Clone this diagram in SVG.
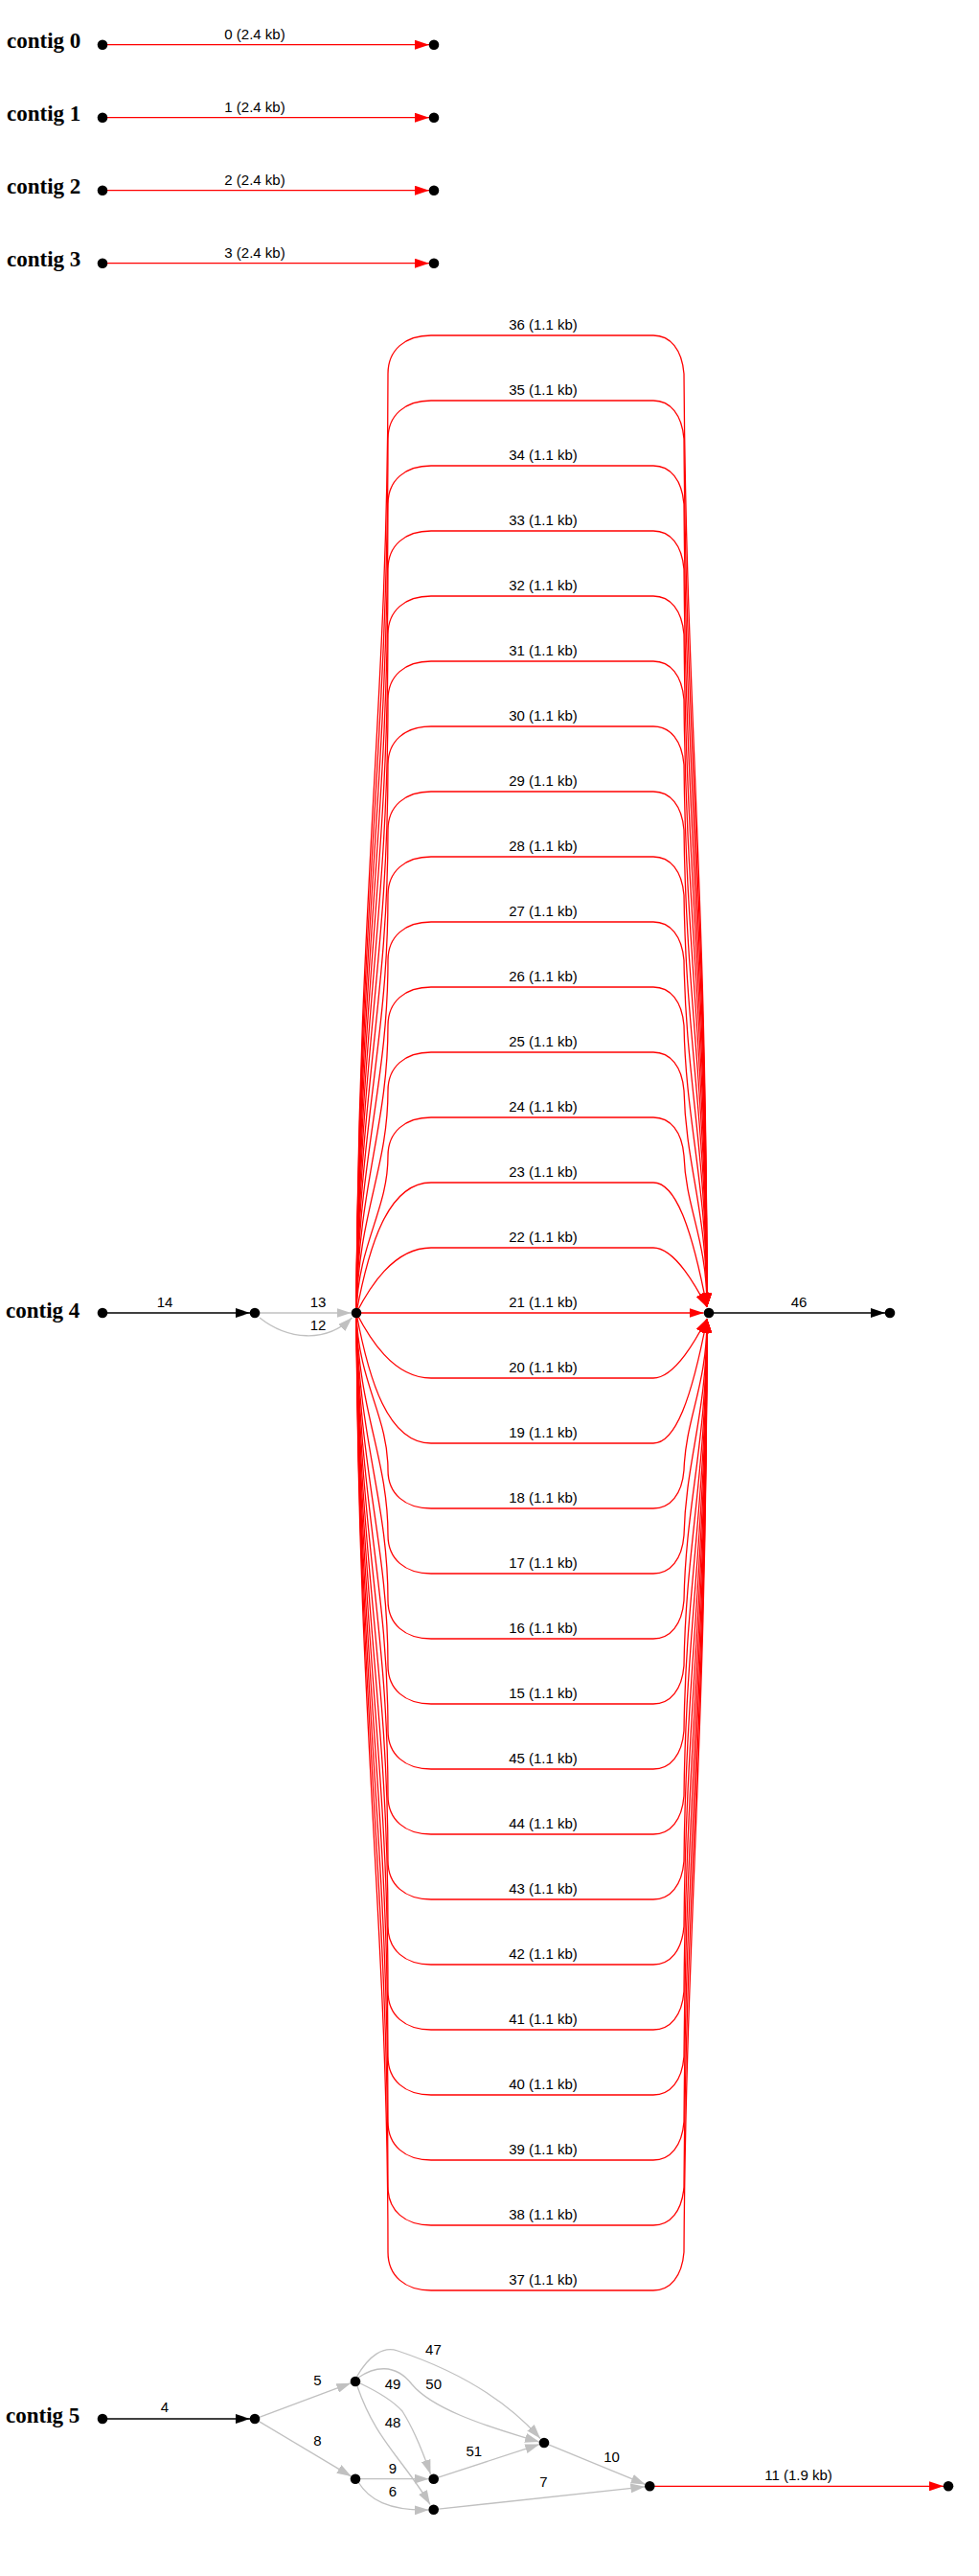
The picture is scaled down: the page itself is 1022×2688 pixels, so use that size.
<svg xmlns="http://www.w3.org/2000/svg" width="1022" height="2688" viewBox="0 0 1022 2688">
<style>
.e{fill:none;stroke-width:1.3}
.r{stroke:#ff0000;marker-end:url(#ar)}
.g{stroke:#c0c0c0;marker-end:url(#ag)}
.k{stroke:#000000;marker-end:url(#ak)}
.n{fill:#000000}
.l{font-family:"Liberation Sans",Arial,sans-serif;font-size:15px;text-anchor:middle;fill:#000000}
.c{font-family:"Liberation Serif","Times New Roman",serif;font-weight:bold;font-size:23px;fill:#000000}
</style>
<defs>
<marker id="ar" markerUnits="userSpaceOnUse" markerWidth="15" markerHeight="10" refX="15" refY="5" orient="auto"><path d="M0,0 L15,5 L0,10 z" fill="#ff0000"/></marker>
<marker id="ag" markerUnits="userSpaceOnUse" markerWidth="15" markerHeight="10" refX="15" refY="5" orient="auto"><path d="M0,0 L15,5 L0,10 z" fill="#c0c0c0"/></marker>
<marker id="ak" markerUnits="userSpaceOnUse" markerWidth="15" markerHeight="10" refX="15" refY="5" orient="auto"><path d="M0,0 L15,5 L0,10 z" fill="#000000"/></marker>
</defs>
<rect width="1022" height="2688" fill="#ffffff"/>

<g id="labels">
<text class="c" x="7" y="50">contig 0</text>
<text class="c" x="7" y="126">contig 1</text>
<text class="c" x="7" y="202">contig 2</text>
<text class="c" x="7" y="278">contig 3</text>
<text class="c" x="6" y="1375">contig 4</text>
<text class="c" x="6" y="2528">contig 5</text>
</g>

<g id="connectors">
<path class="e r" d="M112,46.7 L448,46.7"/>
<path class="e r" d="M112,122.7 L448,122.7"/>
<path class="e r" d="M112,198.7 L448,198.7"/>
<path class="e r" d="M112,274.7 L448,274.7"/>

<path class="e k" d="M112,1370 L261,1370"/>
<path class="e g" d="M271,1370 L366.5,1370"/>
<path class="e g" d="M271,1375 C300,1398 340,1402 367.5,1375"/>
<path class="e k" d="M745,1370 L924,1370"/>

<path class="e r" d="M377,1370 L734.5,1370"/>
<path class="e r" d="M372,1370 C385,1345 410,1302 450,1302 L682,1302 C705,1302 728,1345 738,1364"/>
<path class="e r" d="M372,1370 C385,1300 405,1234 450,1234 L682,1234 C705,1234 722,1280 738,1364"/>
<path class="e r" d="M372,1370 C374,1296.2 405,1263.4 405,1206 C405,1181 423,1166 450,1166 L682,1166 C700,1166 712,1181 714,1206 C716,1261.3 738,1292.9 738,1364"/>
<path class="e r" d="M372,1370 C374,1265.6 405,1219.2 405,1138 C405,1113 423,1098 450,1098 L682,1098 C700,1098 712,1113 714,1138 C716,1217.1 738,1262.3 738,1364"/>
<path class="e r" d="M372,1370 C374,1235 405,1175 405,1070 C405,1045 423,1030 450,1030 L682,1030 C700,1030 712,1045 714,1070 C716,1172.9 738,1231.7 738,1364"/>
<path class="e r" d="M372,1370 C374,1204.4 405,1130.8 405,1002 C405,977 423,962 450,962 L682,962 C700,962 712,977 714,1002 C716,1128.7 738,1201.1 738,1364"/>
<path class="e r" d="M372,1370 C374,1173.8 405,1086.6 405,934 C405,909 423,894 450,894 L682,894 C700,894 712,909 714,934 C716,1084.5 738,1170.5 738,1364"/>
<path class="e r" d="M372,1370 C374,1143.2 405,1042.4 405,866 C405,841 423,826 450,826 L682,826 C700,826 712,841 714,866 C716,1040.3 738,1139.9 738,1364"/>
<path class="e r" d="M372,1370 C374,1112.6 405,998.2 405,798 C405,773 423,758 450,758 L682,758 C700,758 712,773 714,798 C716,996.1 738,1109.3 738,1364"/>
<path class="e r" d="M372,1370 C374,1082 405,954 405,730 C405,705 423,690 450,690 L682,690 C700,690 712,705 714,730 C716,951.9 738,1078.7 738,1364"/>
<path class="e r" d="M372,1370 C374,1051.4 405,909.8 405,662 C405,637 423,622 450,622 L682,622 C700,622 712,637 714,662 C716,907.7 738,1048.1 738,1364"/>
<path class="e r" d="M372,1370 C374,1020.8 405,865.6 405,594 C405,569 423,554 450,554 L682,554 C700,554 712,569 714,594 C716,863.5 738,1017.5 738,1364"/>
<path class="e r" d="M372,1370 C374,990.2 405,821.4 405,526 C405,501 423,486 450,486 L682,486 C700,486 712,501 714,526 C716,819.3 738,986.9 738,1364"/>
<path class="e r" d="M372,1370 C374,959.6 405,777.2 405,458 C405,433 423,418 450,418 L682,418 C700,418 712,433 714,458 C716,775.1 738,956.3 738,1364"/>
<path class="e r" d="M372,1370 C374,929 405,733 405,390 C405,365 423,350 450,350 L682,350 C700,350 712,365 714,390 C716,730.9 738,925.7 738,1364"/>

<path class="e r" d="M372,1370 C385,1395 410,1438 450,1438 L682,1438 C705,1438 728,1395 738,1376"/>
<path class="e r" d="M372,1370 C385,1440 405,1506 450,1506 L682,1506 C705,1506 722,1460 738,1376"/>
<path class="e r" d="M372,1370 C374,1443.8 405,1476.6 405,1534 C405,1559 423,1574 450,1574 L682,1574 C700,1574 712,1559 714,1534 C716,1478.7 738,1447.1 738,1376"/>
<path class="e r" d="M372,1370 C374,1474.4 405,1520.8 405,1602 C405,1627 423,1642 450,1642 L682,1642 C700,1642 712,1627 714,1602 C716,1522.9 738,1477.7 738,1376"/>
<path class="e r" d="M372,1370 C374,1505 405,1565 405,1670 C405,1695 423,1710 450,1710 L682,1710 C700,1710 712,1695 714,1670 C716,1567.1 738,1508.3 738,1376"/>
<path class="e r" d="M372,1370 C374,1535.6 405,1609.2 405,1738 C405,1763 423,1778 450,1778 L682,1778 C700,1778 712,1763 714,1738 C716,1611.3 738,1538.9 738,1376"/>
<path class="e r" d="M372,1370 C374,1566.2 405,1653.4 405,1806 C405,1831 423,1846 450,1846 L682,1846 C700,1846 712,1831 714,1806 C716,1655.5 738,1569.5 738,1376"/>
<path class="e r" d="M372,1370 C374,1596.8 405,1697.6 405,1874 C405,1899 423,1914 450,1914 L682,1914 C700,1914 712,1899 714,1874 C716,1699.7 738,1600.1 738,1376"/>
<path class="e r" d="M372,1370 C374,1627.4 405,1741.8 405,1942 C405,1967 423,1982 450,1982 L682,1982 C700,1982 712,1967 714,1942 C716,1743.9 738,1630.7 738,1376"/>
<path class="e r" d="M372,1370 C374,1658 405,1786 405,2010 C405,2035 423,2050 450,2050 L682,2050 C700,2050 712,2035 714,2010 C716,1788.1 738,1661.3 738,1376"/>
<path class="e r" d="M372,1370 C374,1688.6 405,1830.2 405,2078 C405,2103 423,2118 450,2118 L682,2118 C700,2118 712,2103 714,2078 C716,1832.3 738,1691.9 738,1376"/>
<path class="e r" d="M372,1370 C374,1719.2 405,1874.4 405,2146 C405,2171 423,2186 450,2186 L682,2186 C700,2186 712,2171 714,2146 C716,1876.5 738,1722.5 738,1376"/>
<path class="e r" d="M372,1370 C374,1749.8 405,1918.6 405,2214 C405,2239 423,2254 450,2254 L682,2254 C700,2254 712,2239 714,2214 C716,1920.7 738,1753.1 738,1376"/>
<path class="e r" d="M372,1370 C374,1780.4 405,1962.8 405,2282 C405,2307 423,2322 450,2322 L682,2322 C700,2322 712,2307 714,2282 C716,1964.9 738,1783.7 738,1376"/>
<path class="e r" d="M372,1370 C374,1811 405,2007 405,2350 C405,2375 423,2390 450,2390 L682,2390 C700,2390 712,2375 714,2350 C716,2009.1 738,1814.3 738,1376"/>

<path class="e k" d="M112,2524 L261,2524"/>
<path class="e g" d="M270.7,2522.3 L366.3,2486.7"/>
<path class="e g" d="M270.3,2526.6 L366.7,2584.1"/>
<path class="e g" d="M376,2586.7 L447.7,2586.7"/>
<path class="e g" d="M374,2590 C385,2608 405,2620 447.7,2619"/>
<path class="e g" d="M373,2490 C385,2525 400,2545 415,2565 C428,2582 440,2598 449,2613.5"/>
<path class="e g" d="M376,2487 C395,2496 410,2505 420,2516 C432,2535 442,2560 449.5,2581.7"/>
<path class="e g" d="M374,2481 C390,2470 412,2465 430,2488 C450,2512 500,2530 563,2548"/>
<path class="e g" d="M372.5,2480 C385,2458 400,2448 415,2453 C460,2468 520,2495 564,2544.5"/>
<path class="e g" d="M457.5,2585.1 L563.2,2550.6"/>
<path class="e g" d="M572.6,2550.9 L673.7,2592.4"/>
<path class="e g" d="M457.7,2618.2 L673.3,2594.8"/>
<path class="e r" d="M683.3,2594.3 L985,2594.3"/>
</g>

<g id="edge-labels">
<text class="l" x="266" y="40.7">0 (2.4 kb)</text>
<text class="l" x="266" y="116.7">1 (2.4 kb)</text>
<text class="l" x="266" y="192.7">2 (2.4 kb)</text>
<text class="l" x="266" y="268.7">3 (2.4 kb)</text>
<text class="l" x="172" y="1364">14</text>
<text class="l" x="332" y="1364">13</text>
<text class="l" x="332" y="1388">12</text>
<text class="l" x="834" y="1364">46</text>
<text class="l" x="567" y="344">36 (1.1 kb)</text>
<text class="l" x="567" y="412">35 (1.1 kb)</text>
<text class="l" x="567" y="480">34 (1.1 kb)</text>
<text class="l" x="567" y="548">33 (1.1 kb)</text>
<text class="l" x="567" y="616">32 (1.1 kb)</text>
<text class="l" x="567" y="684">31 (1.1 kb)</text>
<text class="l" x="567" y="752">30 (1.1 kb)</text>
<text class="l" x="567" y="820">29 (1.1 kb)</text>
<text class="l" x="567" y="888">28 (1.1 kb)</text>
<text class="l" x="567" y="956">27 (1.1 kb)</text>
<text class="l" x="567" y="1024">26 (1.1 kb)</text>
<text class="l" x="567" y="1092">25 (1.1 kb)</text>
<text class="l" x="567" y="1160">24 (1.1 kb)</text>
<text class="l" x="567" y="1228">23 (1.1 kb)</text>
<text class="l" x="567" y="1296">22 (1.1 kb)</text>
<text class="l" x="567" y="1364">21 (1.1 kb)</text>
<text class="l" x="567" y="1432">20 (1.1 kb)</text>
<text class="l" x="567" y="1500">19 (1.1 kb)</text>
<text class="l" x="567" y="1568">18 (1.1 kb)</text>
<text class="l" x="567" y="1636">17 (1.1 kb)</text>
<text class="l" x="567" y="1704">16 (1.1 kb)</text>
<text class="l" x="567" y="1772">15 (1.1 kb)</text>
<text class="l" x="567" y="1840">45 (1.1 kb)</text>
<text class="l" x="567" y="1908">44 (1.1 kb)</text>
<text class="l" x="567" y="1976">43 (1.1 kb)</text>
<text class="l" x="567" y="2044">42 (1.1 kb)</text>
<text class="l" x="567" y="2112">41 (1.1 kb)</text>
<text class="l" x="567" y="2180">40 (1.1 kb)</text>
<text class="l" x="567" y="2248">39 (1.1 kb)</text>
<text class="l" x="567" y="2316">38 (1.1 kb)</text>
<text class="l" x="567" y="2384">37 (1.1 kb)</text>
<text class="l" x="172" y="2517.3">4</text>
<text class="l" x="331.4" y="2489.3">5</text>
<text class="l" x="331.4" y="2552.3">8</text>
<text class="l" x="410" y="2580.7">9</text>
<text class="l" x="410" y="2605">6</text>
<text class="l" x="410" y="2533.3">48</text>
<text class="l" x="410" y="2493.3">49</text>
<text class="l" x="452.7" y="2493.3">50</text>
<text class="l" x="452.4" y="2456.7">47</text>
<text class="l" x="494.8" y="2563.3">51</text>
<text class="l" x="638.5" y="2569.3">10</text>
<text class="l" x="567.3" y="2595">7</text>
<text class="l" x="833.5" y="2588.3">11 (1.9 kb)</text>
</g>

<g id="n0a"><circle class="n" cx="107" cy="46.7" r="5.3"/></g>
<g id="n0b"><circle class="n" cx="453" cy="46.7" r="5.3"/></g>
<g id="n1a"><circle class="n" cx="107" cy="122.7" r="5.3"/></g>
<g id="n1b"><circle class="n" cx="453" cy="122.7" r="5.3"/></g>
<g id="n2a"><circle class="n" cx="107" cy="198.7" r="5.3"/></g>
<g id="n2b"><circle class="n" cx="453" cy="198.7" r="5.3"/></g>
<g id="n3a"><circle class="n" cx="107" cy="274.7" r="5.3"/></g>
<g id="n3b"><circle class="n" cx="453" cy="274.7" r="5.3"/></g>
<g id="n4a"><circle class="n" cx="107" cy="1370" r="5.3"/></g>
<g id="n4b"><circle class="n" cx="266" cy="1370" r="5.3"/></g>
<g id="n4c"><circle class="n" cx="372" cy="1370" r="5.3"/></g>
<g id="n4d"><circle class="n" cx="740" cy="1370" r="5.3"/></g>
<g id="n4e"><circle class="n" cx="929" cy="1370" r="5.3"/></g>
<g id="n5a"><circle class="n" cx="107" cy="2524" r="5.3"/></g>
<g id="n5b"><circle class="n" cx="266" cy="2524" r="5.3"/></g>
<g id="n5c"><circle class="n" cx="371" cy="2485" r="5.3"/></g>
<g id="n5d"><circle class="n" cx="371" cy="2586.7" r="5.3"/></g>
<g id="n5e"><circle class="n" cx="452.7" cy="2586.7" r="5.3"/></g>
<g id="n5f"><circle class="n" cx="452.7" cy="2618.7" r="5.3"/></g>
<g id="n5g"><circle class="n" cx="568" cy="2549" r="5.3"/></g>
<g id="n5h"><circle class="n" cx="678.3" cy="2594.3" r="5.3"/></g>
<g id="n5i"><circle class="n" cx="990" cy="2594.3" r="5.3"/></g>
</svg>
